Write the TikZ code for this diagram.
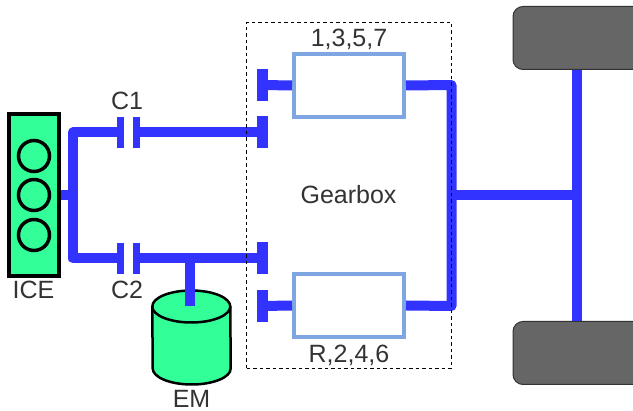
\documentclass[tikz,border=0pt]{standalone}
\usepackage{fontspec}
\setmainfont{Liberation Sans}
\usetikzlibrary{positioning}
\definecolor{shaftblue}{HTML}{3333FF}
\definecolor{motorgreen}{HTML}{33FF99}
\definecolor{gearedge}{HTML}{7EA6E0}
\definecolor{wheelgray}{HTML}{666666}
\definecolor{labelgray}{HTML}{333333}

\begin{document}
\begin{tikzpicture}[
    x=1pt, y=-1pt,
    shaft/.style = { draw=shaftblue, line width=10pt },
    plate/.style = { fill=shaftblue, inner sep=0pt, minimum width=7pt, minimum height=31pt },
    endplate/.style = { plate, minimum width=11pt, minimum height=32pt },
    gearset/.style = { draw=gearedge, line width=4pt, fill=white, inner sep=0pt, minimum width=110pt, minimum height=63pt },
    wheel/.style = { draw=black!80, line width=1pt, fill=wheelgray, rounded corners=10pt, inner sep=0pt, minimum width=160pt, minimum height=63pt },
    cyl/.style = { draw=black, line width=3.5pt, circle, inner sep=0pt, minimum size=31pt },
    lbl/.style = { text=labelgray, inner sep=0pt, font=\fontsize{25}{25}\selectfont },
    ]
    \clip (0,0) rectangle (633,411);

    \node[draw=black, line width=4pt, fill=motorgreen, inner sep=0pt, minimum width=50pt, minimum height=162pt] (ice) at (33.5,195.5) {};
    \node[cyl] (cyl1) at (34,156) {};
    \node[cyl] (cyl2) at (34,195) {};
    \node[cyl] (cyl3) at (34,235) {};

    \node[wheel] (wheeltop) at (593,38) {};
    \node[wheel] (wheelbot) at (593,353) {};

    % clutches
    \node[plate] (c1a) at (120.5,132.5) {};
    \node[plate] (c1b) at (136.5,132.5) {};
    \node[plate] (c2a) at (120.5,258.5) {};
    \node[plate] (c2b) at (136.5,258.5) {};

    % gearbox inputs
    \node[endplate] (in1) at (262.5,132.5) {};
    \node[endplate] (in2) at (262.5,258.5) {};
    \node[endplate] (out1) at (262.5,85) {};
    \node[endplate] (out2) at (262.5,306) {};

    \coordinate (split) at (73,195);
    \coordinate (top) at (73,132.5);
    \coordinate (bot) at (73,258.5);
    \coordinate (join) at (451.5,195);
    \coordinate (axle) at (577,195);
    \coordinate (emtap) at (190,258.5);
    \coordinate (emin) at (190,306);
    \coordinate (rtop) at (451.5,85);
    \coordinate (rbot) at (451.5,306);

    % motor body
    \node[inner sep=0pt, minimum width=78pt, minimum height=94pt] (em) at (191.5,337.5) {};
    \draw[draw=black, line width=2.5pt, fill=motorgreen] (em.west |- 0,306.5) arc[start angle=180, end angle=0, x radius=39pt, y radius=16pt] -- (em.east |- 0,368.5) arc[start angle=0, end angle=-180, x radius=39pt, y radius=16pt] -- cycle;
    \draw[draw=black, line width=2.5pt] (em.west |- 0,306.5) arc[start angle=180, end angle=360, x radius=39pt, y radius=16pt];

    \draw[shaft] (ice.east |- split) -- (split);
    \draw[shaft, line join=round] (c1a.center) -- (top) -- (bot) -- (c2a.center);
    \draw[shaft] (c1b.center) -- (in1.center);
    \draw[shaft] (c2b.center) -- (in2.center);
    \draw[shaft] (emtap) -- (emin);
    \draw[shaft] (join) -- (axle);
    \draw[shaft] (wheeltop.south -| axle) -- (wheelbot.north -| axle);

    \node[gearset] (g1) at (349,85.5) {};
    \node[gearset] (g2) at (349,305.5) {};

    \draw[shaft] (out1.center) -- (g1.west);
    \draw[shaft] (out2.center) -- (g2.west);
    \draw[shaft, line join=round] (g1.east) -- (rtop) -- (rbot) -- (g2.east);

    \node[draw=black, line width=1pt, dash pattern=on 3.5pt off 3pt, minimum width=205pt, minimum height=346pt, inner sep=0pt] (gearbox) at (349,195.5) {};

    \node[lbl] (gearboxlbl) at (348.5,195) {Gearbox};
    \node[lbl, above=2pt of g1] (g1lbl) {1,3,5,7};
    \node[lbl, below=6pt of g2] (g2lbl) {R,2,4,6};
    \node[lbl] (c1lbl) at (127,101) {C1};
    \node[lbl] (c2lbl) at (127,290) {C2};
    \node[lbl, below=2pt of ice] (icelbl) {ICE};
    \node[lbl, below=5pt of em] (emlbl) {EM};

  \end{tikzpicture}
\end{document}
